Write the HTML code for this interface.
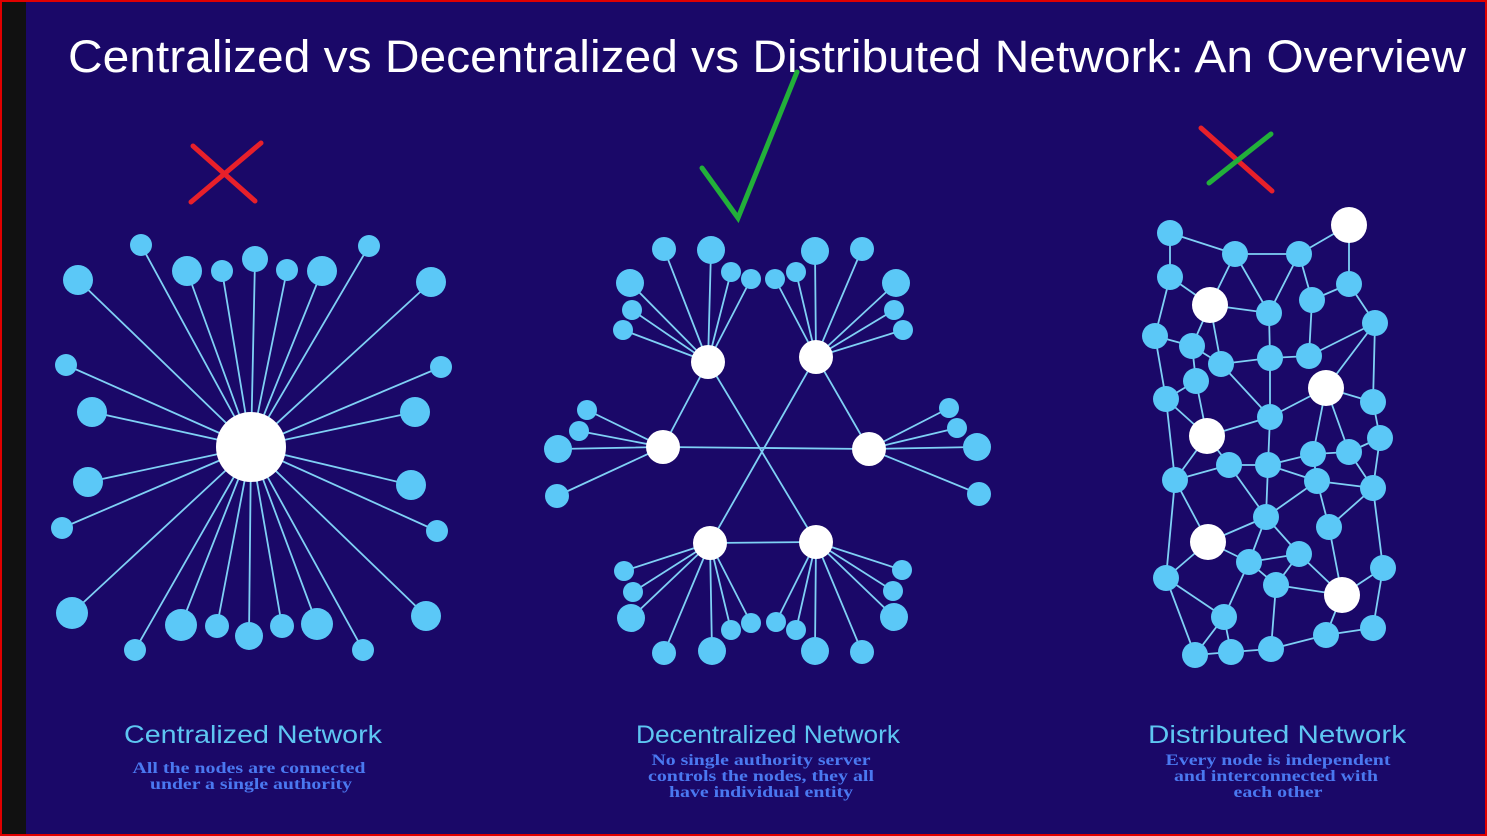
<!DOCTYPE html>
<html><head><meta charset="utf-8"><style>
html,body{margin:0;padding:0;background:#1a0868;}
svg{display:block}
</style></head><body>
<svg width="1487" height="836" viewBox="0 0 1487 836" xmlns="http://www.w3.org/2000/svg">
<rect x="0" y="0" width="1487" height="836" fill="#1a0868"/>
<rect x="2" y="2" width="24" height="832" fill="#111111"/>
<rect x="1" y="1" width="1485" height="834" fill="none" stroke="#e00000" stroke-width="2"/>
<text x="68" y="72" fill="#ffffff" font-family="Liberation Sans, sans-serif" font-size="45" textLength="1398" lengthAdjust="spacingAndGlyphs">Centralized vs Decentralized vs Distributed Network: An Overview</text>

<!-- Centralized -->
<g stroke="#7fd0f5" stroke-width="1.8" fill="none">
<path d="M251 447L141 245M251 447L187 271M251 447L222 271M251 447L255 259M251 447L287 270M251 447L322 271M251 447L369 246M251 447L78 280M251 447L431 282M251 447L66 365M251 447L441 367M251 447L92 412M251 447L415 412M251 447L88 482M251 447L411 485M251 447L62 528M251 447L437 531M251 447L72 613M251 447L426 616M251 447L135 650M251 447L181 625M251 447L217 626M251 447L249 636M251 447L282 626M251 447L317 624M251 447L363 650"/>
</g>
<g fill="#5bc8f7">
<circle cx="141" cy="245" r="11"/><circle cx="187" cy="271" r="15"/><circle cx="222" cy="271" r="11"/><circle cx="255" cy="259" r="13"/><circle cx="287" cy="270" r="11"/><circle cx="322" cy="271" r="15"/><circle cx="369" cy="246" r="11"/><circle cx="78" cy="280" r="15"/><circle cx="431" cy="282" r="15"/><circle cx="66" cy="365" r="11"/><circle cx="441" cy="367" r="11"/><circle cx="92" cy="412" r="15"/><circle cx="415" cy="412" r="15"/><circle cx="88" cy="482" r="15"/><circle cx="411" cy="485" r="15"/><circle cx="62" cy="528" r="11"/><circle cx="437" cy="531" r="11"/><circle cx="72" cy="613" r="16"/><circle cx="426" cy="616" r="15"/><circle cx="135" cy="650" r="11"/><circle cx="181" cy="625" r="16"/><circle cx="217" cy="626" r="12"/><circle cx="249" cy="636" r="14"/><circle cx="282" cy="626" r="12"/><circle cx="317" cy="624" r="16"/><circle cx="363" cy="650" r="11"/>
</g>
<circle cx="251" cy="447" r="35" fill="#ffffff"/>

<!-- Decentralized -->
<g stroke="#7fd0f5" stroke-width="1.8" fill="none">
<path d="M663 447L869 449M708 362L816 542M816 357L710 543M710 543L816 542M663 447L708 362M869 449L816 357"/>
<path d="M708 362L664 249M708 362L711 250M708 362L731 272M708 362L751 279M708 362L630 283M708 362L632 310M708 362L623 330
M816 357L775 279M816 357L796 272M816 357L815 251M816 357L862 249M816 357L896 283M816 357L894 310M816 357L903 330
M663 447L587 410M663 447L579 431M663 447L558 449M663 447L557 496
M869 449L949 408M869 449L957 428M869 449L977 447M869 449L979 494
M710 543L624 571M710 543L633 592M710 543L631 618M710 543L664 653M710 543L712 651M710 543L731 630M710 543L751 623
M816 542L776 622M816 542L796 630M816 542L815 651M816 542L862 652M816 542L894 617M816 542L893 591M816 542L902 570"/>
</g>
<g fill="#5bc8f7">
<circle cx="664" cy="249" r="12"/><circle cx="711" cy="250" r="14"/><circle cx="731" cy="272" r="10"/><circle cx="751" cy="279" r="10"/><circle cx="630" cy="283" r="14"/><circle cx="632" cy="310" r="10"/><circle cx="623" cy="330" r="10"/>
<circle cx="775" cy="279" r="10"/><circle cx="796" cy="272" r="10"/><circle cx="815" cy="251" r="14"/><circle cx="862" cy="249" r="12"/><circle cx="896" cy="283" r="14"/><circle cx="894" cy="310" r="10"/><circle cx="903" cy="330" r="10"/>
<circle cx="587" cy="410" r="10"/><circle cx="579" cy="431" r="10"/><circle cx="558" cy="449" r="14"/><circle cx="557" cy="496" r="12"/>
<circle cx="949" cy="408" r="10"/><circle cx="957" cy="428" r="10"/><circle cx="977" cy="447" r="14"/><circle cx="979" cy="494" r="12"/>
<circle cx="624" cy="571" r="10"/><circle cx="633" cy="592" r="10"/><circle cx="631" cy="618" r="14"/><circle cx="664" cy="653" r="12"/><circle cx="712" cy="651" r="14"/><circle cx="731" cy="630" r="10"/><circle cx="751" cy="623" r="10"/>
<circle cx="776" cy="622" r="10"/><circle cx="796" cy="630" r="10"/><circle cx="815" cy="651" r="14"/><circle cx="862" cy="652" r="12"/><circle cx="894" cy="617" r="14"/><circle cx="893" cy="591" r="10"/><circle cx="902" cy="570" r="10"/>
</g>
<g fill="#ffffff">
<circle cx="708" cy="362" r="17"/><circle cx="816" cy="357" r="17"/><circle cx="663" cy="447" r="17"/><circle cx="869" cy="449" r="17"/><circle cx="710" cy="543" r="17"/><circle cx="816" cy="542" r="17"/>
</g>

<!-- Distributed -->
<g stroke="#7fd0f5" stroke-width="1.8" fill="none">
<path d="M1170 233L1235 254M1170 233L1170 277M1235 254L1299 254M1299 254L1349 225M1349 225L1349 284M1235 254L1210 305M1235 254L1269 313M1299 254L1269 313M1299 254L1312 300M1170 277L1210 305M1170 277L1155 336M1312 300L1349 284M1349 284L1375 323M1210 305L1269 313M1210 305L1221 364M1210 305L1192 346M1155 336L1192 346M1155 336L1166 399M1192 346L1221 364M1192 346L1196 381M1221 364L1270 358M1270 358L1309 356M1270 358L1269 313M1309 356L1312 300M1309 356L1375 323M1375 323L1326 388M1375 323L1373 402M1196 381L1166 399M1166 399L1207 436M1196 381L1207 436M1221 364L1270 417M1270 358L1270 417M1270 417L1326 388M1207 436L1270 417M1270 417L1268 465M1326 388L1373 402M1373 402L1380 438M1326 388L1313 454M1326 388L1349 452M1313 454L1349 452M1349 452L1380 438M1166 399L1175 480M1175 480L1207 436M1175 480L1229 465M1229 465L1268 465M1229 465L1266 517M1268 465L1313 454M1268 465L1317 481M1313 454L1317 481M1349 452L1373 488M1380 438L1373 488M1317 481L1373 488M1268 465L1266 517M1229 465L1207 436M1266 517L1317 481M1266 517L1208 542M1266 517L1249 562M1266 517L1299 554M1317 481L1329 527M1329 527L1373 488M1329 527L1342 595M1175 480L1208 542M1175 480L1166 578M1208 542L1249 562M1249 562L1299 554M1249 562L1224 617M1249 562L1276 585M1299 554L1276 585M1299 554L1342 595M1276 585L1342 595M1276 585L1271 649M1166 578L1224 617M1166 578L1195 655M1224 617L1195 655M1224 617L1231 652M1231 652L1195 655M1231 652L1271 649M1271 649L1326 635M1326 635L1342 595M1326 635L1373 628M1373 628L1383 568M1383 568L1373 488M1383 568L1342 595M1166 578L1208 542"/>
</g>
<g fill="#5bc8f7">
<circle cx="1170" cy="233" r="13"/><circle cx="1235" cy="254" r="13"/><circle cx="1299" cy="254" r="13"/><circle cx="1170" cy="277" r="13"/><circle cx="1269" cy="313" r="13"/><circle cx="1312" cy="300" r="13"/><circle cx="1349" cy="284" r="13"/><circle cx="1375" cy="323" r="13"/><circle cx="1155" cy="336" r="13"/><circle cx="1192" cy="346" r="13"/><circle cx="1221" cy="364" r="13"/><circle cx="1270" cy="358" r="13"/><circle cx="1309" cy="356" r="13"/><circle cx="1166" cy="399" r="13"/><circle cx="1196" cy="381" r="13"/><circle cx="1270" cy="417" r="13"/><circle cx="1373" cy="402" r="13"/><circle cx="1380" cy="438" r="13"/><circle cx="1229" cy="465" r="13"/><circle cx="1268" cy="465" r="13"/><circle cx="1313" cy="454" r="13"/><circle cx="1349" cy="452" r="13"/><circle cx="1175" cy="480" r="13"/><circle cx="1317" cy="481" r="13"/><circle cx="1373" cy="488" r="13"/><circle cx="1266" cy="517" r="13"/><circle cx="1329" cy="527" r="13"/><circle cx="1249" cy="562" r="13"/><circle cx="1299" cy="554" r="13"/><circle cx="1166" cy="578" r="13"/><circle cx="1276" cy="585" r="13"/><circle cx="1383" cy="568" r="13"/><circle cx="1224" cy="617" r="13"/><circle cx="1373" cy="628" r="13"/><circle cx="1326" cy="635" r="13"/><circle cx="1195" cy="655" r="13"/><circle cx="1231" cy="652" r="13"/><circle cx="1271" cy="649" r="13"/>
</g>
<g fill="#ffffff">
<circle cx="1349" cy="225" r="18"/><circle cx="1210" cy="305" r="18"/><circle cx="1326" cy="388" r="18"/><circle cx="1207" cy="436" r="18"/><circle cx="1208" cy="542" r="18"/><circle cx="1342" cy="595" r="18"/>
</g>

<!-- marks -->
<g stroke-width="5" stroke-linecap="round" fill="none">
<path d="M193 146L255 201M191 202L261 143" stroke="#e8202a"/>
<path d="M702 168L738 218L797 72" stroke="#22b03a"/>
<path d="M1201 128L1272 191" stroke="#e8202a"/>
<path d="M1209 183L1271 134" stroke="#22b03a"/>
</g>

<!-- labels -->
<g font-family="Liberation Sans, sans-serif" fill="#5ec6f2" font-size="25" text-anchor="middle">
<text x="253" y="743" textLength="258" lengthAdjust="spacingAndGlyphs">Centralized Network</text>
<text x="768" y="743" textLength="264" lengthAdjust="spacingAndGlyphs">Decentralized Network</text>
<text x="1277" y="743" textLength="258" lengthAdjust="spacingAndGlyphs">Distributed Network</text>
</g>
<g font-family="Liberation Serif, serif" font-weight="bold" fill="#4a78f0" font-size="16" text-anchor="middle" lengthAdjust="spacingAndGlyphs">
<text x="249" y="773" textLength="233" lengthAdjust="spacingAndGlyphs">All the nodes are connected</text>
<text x="251" y="789" textLength="202" lengthAdjust="spacingAndGlyphs">under a single authority</text>
<text x="761" y="765" textLength="219" lengthAdjust="spacingAndGlyphs">No single authority server</text>
<text x="761" y="781" textLength="226" lengthAdjust="spacingAndGlyphs">controls the nodes, they all</text>
<text x="761" y="797" textLength="184" lengthAdjust="spacingAndGlyphs">have individual entity</text>
<text x="1278" y="765" textLength="225" lengthAdjust="spacingAndGlyphs">Every node is independent</text>
<text x="1276" y="781" textLength="204" lengthAdjust="spacingAndGlyphs">and interconnected with</text>
<text x="1278" y="797" textLength="89" lengthAdjust="spacingAndGlyphs">each other</text>
</g>
</svg>
</body></html>
